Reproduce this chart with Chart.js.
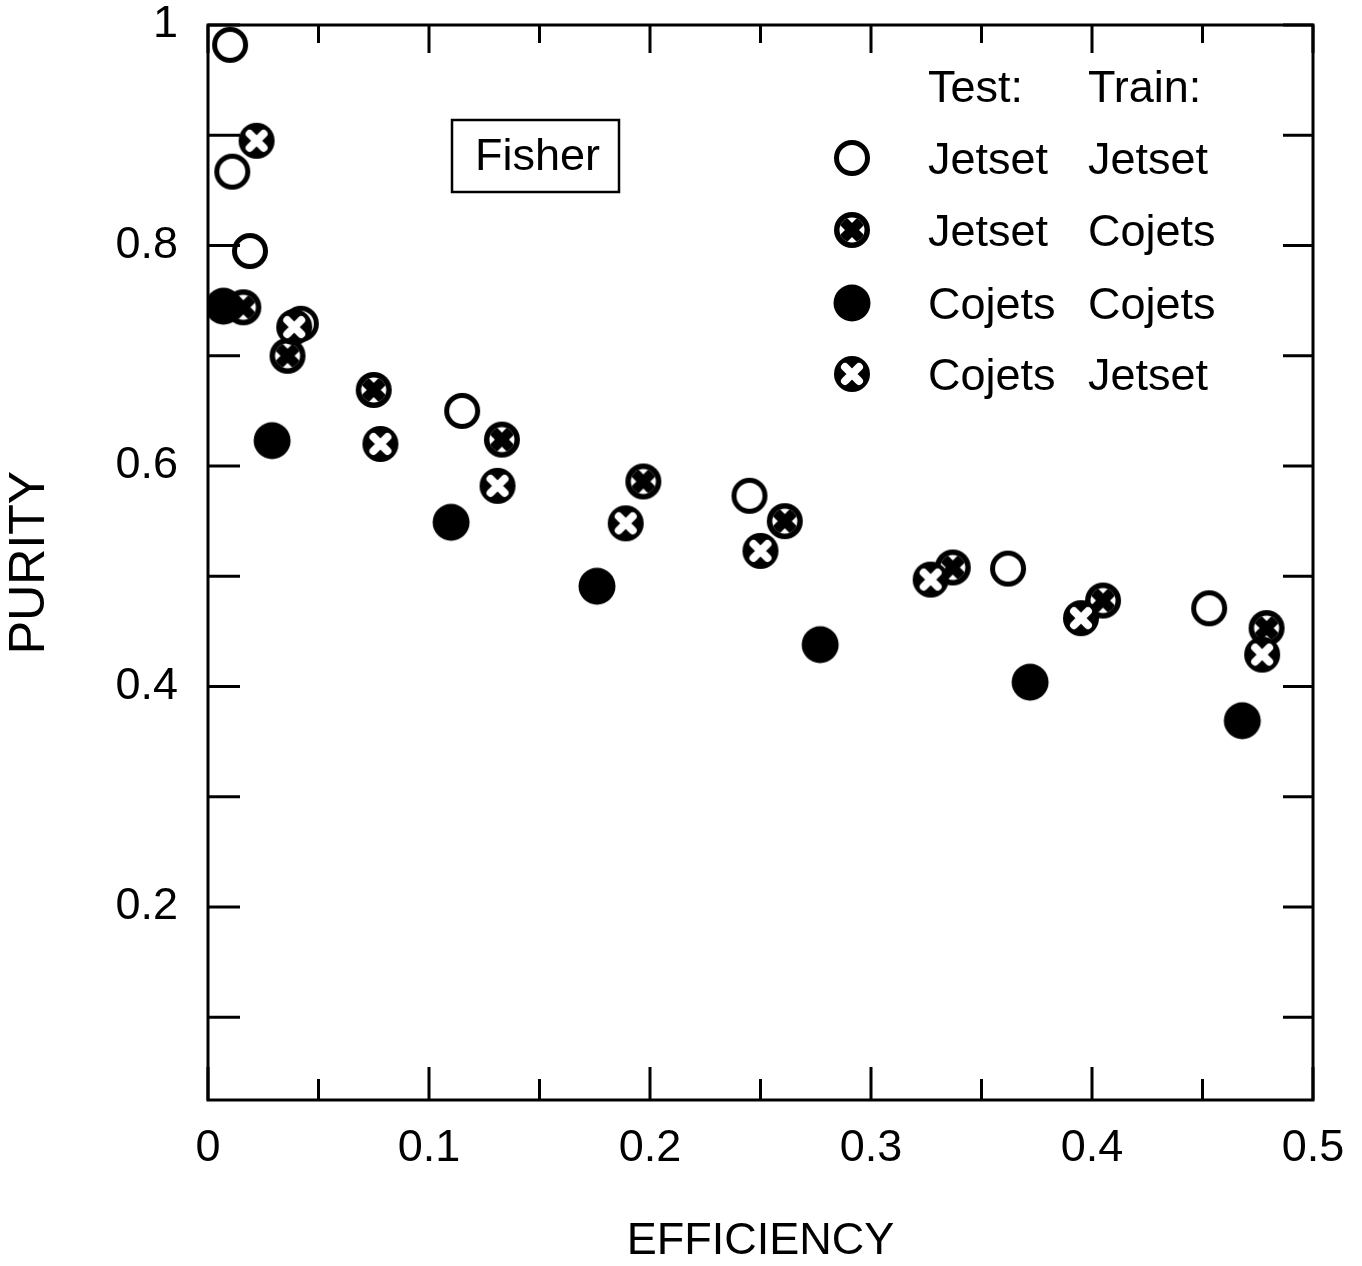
<!DOCTYPE html>
<html>
<head>
<meta charset="utf-8">
<script src="https://cdn.jsdelivr.net/npm/chart.js@4/dist/chart.umd.min.js"></script>
<style>
  body { margin: 0; background: #fff; }
  #chart { display: block; }
</style>
</head>
<body>
<canvas id="chart" width="1362" height="1266"></canvas>
<script>
/* valores: EFFICIENCY (x) x PURITY (y) */
const xTickValues = [0, 0.05, 0.1, 0.15, 0.2, 0.25, 0.3, 0.35, 0.4, 0.45, 0.5];
const xTickLabels = ['0', '', '0.1', '', '0.2', '', '0.3', '', '0.4', '', '0.5'];
const yTickValues = [0.1, 0.2, 0.3, 0.4, 0.5, 0.6, 0.7, 0.8, 0.9, 1.0];
const yTickLabels = ['', '0.2', '', '0.4', '', '0.6', '', '0.8', '', '1'];

// Test: Jetset / Train: Jetset (circulo aberto)
const jetJetX = [0.010, 0.011, 0.019, 0.042, 0.115, 0.245, 0.362, 0.453];
const jetJetY = [0.982, 0.867, 0.795, 0.729, 0.650, 0.573, 0.507, 0.471];

// Test: Jetset / Train: Cojets (circulo com cunhas)
const jetCojX = [0.016, 0.036, 0.075, 0.133, 0.197, 0.261, 0.337, 0.405, 0.479];
const jetCojY = [0.744, 0.700, 0.669, 0.624, 0.586, 0.550, 0.508, 0.478, 0.453];

// Test: Cojets / Train: Cojets (circulo cheio)
const cojCojX = [0.007, 0.029, 0.110, 0.176, 0.277, 0.372, 0.468];
const cojCojY = [0.745, 0.623, 0.549, 0.491, 0.438, 0.404, 0.369];

// Test: Cojets / Train: Jetset (circulo com X branco)
const cojJetX = [0.022, 0.039, 0.078, 0.131, 0.189, 0.250, 0.327, 0.395, 0.477];
const cojJetY = [0.895, 0.726, 0.620, 0.582, 0.548, 0.523, 0.497, 0.462, 0.429];

const FONT = "'Liberation Sans', Arial, Helvetica, sans-serif";

/* marcadores desenhados num canvas pequeno */
function makeMarker(kind) {
  const c = document.createElement('canvas');
  c.width = 40; c.height = 40;
  const g = c.getContext('2d');
  g.translate(20, 20);
  if (kind === 'open') {
    g.beginPath(); g.arc(0, 0, 15.5, 0, Math.PI * 2);
    g.fillStyle = '#fff'; g.fill();
    g.lineWidth = 5; g.strokeStyle = '#000'; g.stroke();
  } else if (kind === 'filled') {
    g.beginPath(); g.arc(0, 0, 18.5, 0, Math.PI * 2);
    g.fillStyle = '#000'; g.fill();
  } else if (kind === 'wedge') {
    g.beginPath(); g.arc(0, 0, 18, 0, Math.PI * 2);
    g.fillStyle = '#000'; g.fill();
    g.save();
    g.beginPath(); g.arc(0, 0, 12.5, 0, Math.PI * 2);
    g.clip();
    g.fillStyle = '#fff'; g.fillRect(-13, -13, 26, 26);
    g.strokeStyle = '#000'; g.lineWidth = 10;
    g.beginPath();
    g.moveTo(-13, -13); g.lineTo(13, 13);
    g.moveTo(-13, 13); g.lineTo(13, -13);
    g.stroke();
    g.restore();
  } else if (kind === 'cross') {
    g.beginPath(); g.arc(0, 0, 18, 0, Math.PI * 2);
    g.fillStyle = '#000'; g.fill();
    g.strokeStyle = '#fff'; g.lineWidth = 8; g.lineCap = 'round';
    g.beginPath();
    g.moveTo(-7, -7); g.lineTo(7, 7);
    g.moveTo(-7, 7); g.lineTo(7, -7);
    g.stroke();
  }
  return c;
}

const markers = {
  open: makeMarker('open'),
  filled: makeMarker('filled'),
  wedge: makeMarker('wedge'),
  cross: makeMarker('cross')
};

function toPoints(xs, ys) {
  return xs.map((x, i) => ({ x: x, y: ys[i] }));
}

/* moldura, ticks internos, legenda e caixa "Fisher" */
const framePlugin = {
  id: 'frame',
  afterDraw(chart) {
    const ctx = chart.ctx;
    const a = chart.chartArea;
    const xs = chart.scales.x;
    const ys = chart.scales.y;
    ctx.save();
    ctx.strokeStyle = '#000';
    ctx.lineWidth = 3;
    ctx.strokeRect(a.left, a.top, a.right - a.left, a.bottom - a.top);

    ctx.beginPath();
    xs.ticks.forEach((t, i) => {
      const px = xs.getPixelForValue(t.value);
      const major = xTickLabels[i] !== '';
      ctx.moveTo(px, a.bottom); ctx.lineTo(px, a.bottom - (major ? 33 : 21));
      ctx.moveTo(px, a.top); ctx.lineTo(px, a.top + (major ? 28 : 18));
    });
    ys.ticks.forEach((t) => {
      const py = ys.getPixelForValue(t.value);
      ctx.moveTo(a.left, py); ctx.lineTo(a.left + 32, py);
      ctx.moveTo(a.right, py); ctx.lineTo(a.right - 30, py);
    });
    ctx.stroke();

    // caixa Fisher
    ctx.lineWidth = 2.5;
    ctx.strokeRect(452, 120, 167, 72);
    ctx.fillStyle = '#000';
    ctx.font = '45px ' + FONT;
    ctx.textBaseline = 'alphabetic';
    ctx.fillText('Fisher', 475, 170);

    // legenda
    ctx.fillText('Test:', 928, 102);
    ctx.fillText('Train:', 1088, 102);
    const rows = [
      ['open', 'Jetset', 'Jetset', 158],
      ['wedge', 'Jetset', 'Cojets', 230],
      ['filled', 'Cojets', 'Cojets', 303],
      ['cross', 'Cojets', 'Jetset', 374]
    ];
    rows.forEach(r => {
      const m = markers[r[0]];
      ctx.drawImage(m, 852 - m.width / 2, r[3] - m.height / 2);
      ctx.fillText(r[1], 928, r[3] + 16);
      ctx.fillText(r[2], 1088, r[3] + 16);
    });
    ctx.restore();
  }
};

Chart.defaults.color = '#000';
Chart.defaults.font.family = FONT;

new Chart(document.getElementById('chart'), {
  type: 'scatter',
  data: {
    datasets: [
      { label: 'Cojets Jetset', data: toPoints(cojJetX, cojJetY), pointStyle: markers.cross, pointRadius: 18, order: 0 },
      { label: 'Cojets Cojets', data: toPoints(cojCojX, cojCojY), pointStyle: markers.filled, pointRadius: 18, order: 1 },
      { label: 'Jetset Cojets', data: toPoints(jetCojX, jetCojY), pointStyle: markers.wedge, pointRadius: 18, order: 2 },
      { label: 'Jetset Jetset', data: toPoints(jetJetX, jetJetY), pointStyle: markers.open, pointRadius: 18, order: 3 }
    ]
  },
  options: {
    responsive: false,
    animation: false,
    devicePixelRatio: 1,
    layout: { padding: { left: 0, right: 49, top: 25, bottom: 0 } },
    plugins: {
      legend: { display: false },
      tooltip: { enabled: false }
    },
    scales: {
      x: {
        type: 'linear',
        min: 0,
        max: 0.5,
        grid: { display: false, drawTicks: false },
        border: { display: false },
        afterBuildTicks: s => { s.ticks = xTickValues.map(v => ({ value: v })); },
        afterFit: s => { s.height = 166; s.paddingLeft = 0; s.paddingRight = 0; },
        ticks: {
          autoSkip: false,
          maxRotation: 0,
          padding: 22,
          font: { size: 45 },
          callback: (v, i) => xTickLabels[i]
        },
        title: {
          display: true,
          text: 'EFFICIENCY',
          font: { size: 45, lineHeight: 1 },
          padding: { top: 0, bottom: 2 }
        }
      },
      y: {
        type: 'linear',
        min: 0.025,
        max: 1.0,
        grid: { display: false, drawTicks: false },
        border: { display: false },
        afterBuildTicks: s => { s.ticks = yTickValues.map(v => ({ value: v })); },
        afterFit: s => { s.width = 208; s.paddingTop = 0; s.paddingBottom = 0; },
        ticks: {
          autoSkip: false,
          padding: 30,
          font: { size: 45 },
          callback: (v, i) => yTickLabels[i]
        },
        title: {
          display: true,
          text: 'PURITY',
          font: { size: 50, lineHeight: 1 },
          padding: { top: 5, bottom: 0 }
        }
      }
    }
  },
  plugins: [framePlugin]
});
</script>
</body>
</html>
